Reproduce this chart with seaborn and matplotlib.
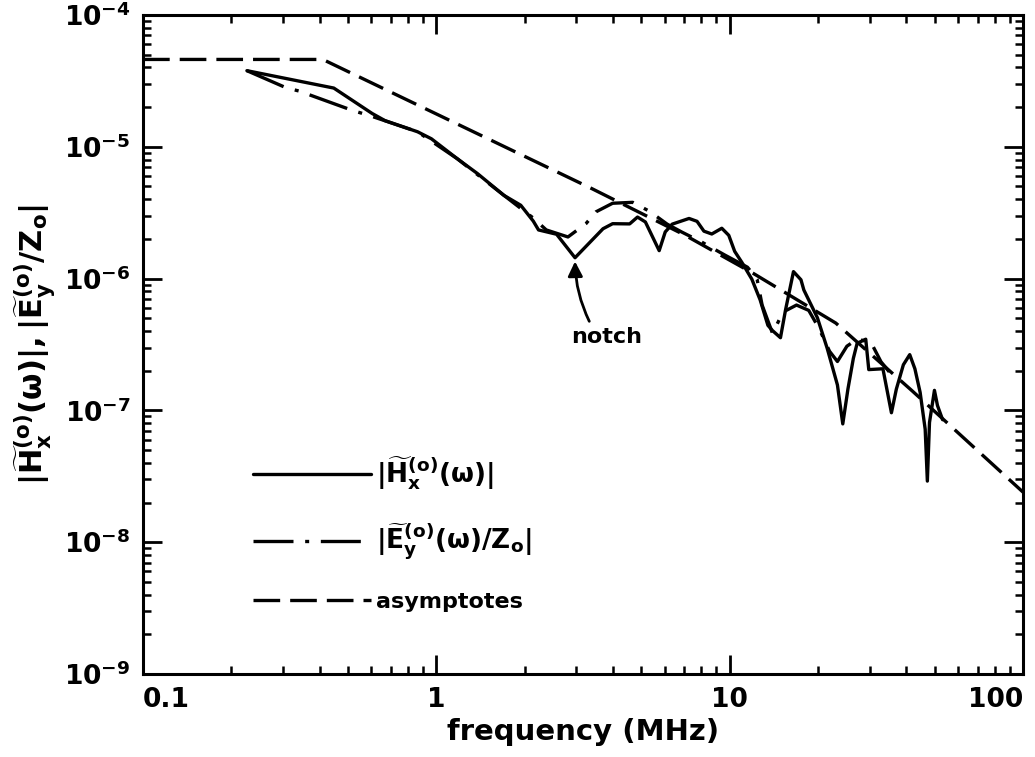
import numpy as np
import pandas as pd
import matplotlib
matplotlib.use("Agg")
import matplotlib.pyplot as plt
import matplotlib.ticker as mticker
import seaborn as sns

# ---------------- data ----------------
freq_H = [0.226, 0.447, 0.604, 0.668, 0.863, 0.962, 1.18, 1.38, 1.70, 1.94,
          2.14, 2.23, 2.57, 2.97, 3.70, 3.99, 4.56, 4.85, 5.16, 5.75,
          6.03, 6.37, 7.27, 7.74, 8.17, 8.69, 9.40, 9.93, 10.4, 11.0,
          11.9, 12.7, 13.5, 14.0, 14.9, 15.5, 16.5, 17.5, 17.9, 19.9,
          21.5, 23.3, 24.3, 25.3, 26.4, 27.2, 29.1, 29.8, 33.3, 35.6,
          37.0, 39.1, 41.1, 42.8, 44.6, 46.4, 47.2, 48.0, 49.9, 51.1, 53.2]
H_mag = [3.78e-5, 2.79e-5, 1.79e-5, 1.58e-5, 1.30e-5, 1.15e-5, 8.1e-6, 6.27e-6, 4.28e-6, 3.60e-6,
         2.73e-6, 2.34e-6, 2.17e-6, 1.44e-6, 2.39e-6, 2.61e-6, 2.60e-6, 2.93e-6, 2.69e-6, 1.63e-6,
         2.26e-6, 2.59e-6, 2.86e-6, 2.72e-6, 2.29e-6, 2.18e-6, 2.41e-6, 2.13e-6, 1.61e-6, 1.33e-6,
         9.9e-7, 6.9e-7, 4.42e-7, 4.03e-7, 3.56e-7, 5.77e-7, 1.13e-6, 9.8e-7, 8.2e-7, 5.06e-7,
         2.96e-7, 1.56e-7, 7.9e-8, 1.45e-7, 2.48e-7, 3.23e-7, 3.47e-7, 2.04e-7, 2.07e-7, 9.6e-8,
         1.45e-7, 2.22e-7, 2.65e-7, 2.07e-7, 1.37e-7, 7.2e-8, 2.91e-8, 8.1e-8, 1.42e-7, 1.09e-7, 8.5e-8]

freq_E = [0.226, 0.308, 0.340, 0.517, 0.604, 0.863, 1.18, 1.70, 2.14, 2.37,
          2.81, 3.24, 3.50, 3.99, 4.67, 5.33, 6.12, 6.88, 8.04, 9.62,
          11.5, 12.4, 12.9, 14.0, 15.2, 16.9, 18.6, 20.2, 21.9, 23.3,
          25.1, 27.2, 30.3, 32.8, 35.0]
E_mag = [3.78e-5, 2.80e-5, 2.65e-5, 1.89e-5, 1.70e-5, 1.30e-5, 8.1e-6, 4.28e-6, 2.88e-6, 2.34e-6,
         2.07e-6, 2.62e-6, 3.21e-6, 3.73e-6, 3.79e-6, 3.24e-6, 2.59e-6, 2.25e-6, 1.89e-6, 1.51e-6,
         1.22e-6, 9.9e-7, 6.3e-7, 3.84e-7, 5.57e-7, 6.3e-7, 5.74e-7, 4.16e-7, 2.81e-7, 2.35e-7,
         3.07e-7, 3.47e-7, 3.29e-7, 2.34e-7, 1.96e-7]

freq_asym = [0.1, 0.41, 3.4, 7.0, 12.0, 23.0, 42.0, 100.0]
asym_mag = [4.6e-5, 4.6e-5, 4.8e-6, 2.15e-6, 1.1e-6, 4.6e-7, 1.4e-7, 2.4e-8]

x_ticks = [0.1, 1, 10, 100]
x_tick_labels = ["0.1", "1", "10", "100"]
y_ticks = [1e-9, 1e-8, 1e-7, 1e-6, 1e-5, 1e-4]

legend_labels = [r"$|\widetilde{H}_{x}^{(o)}(\omega)|$",
                 r"$|\widetilde{E}_{y}^{(o)}(\omega)/Z_{o}|$",
                 "asymptotes"]
y_label = r"$|\widetilde{H}_{x}^{(o)}(\omega)|, |\widetilde{E}_{y}^{(o)}/Z_{o}|$"
x_label = "frequency (MHz)"

# ---------------- style ----------------
sns.set_theme(style="ticks")
plt.rcParams["font.family"] = ["DejaVu Sans"]
plt.rcParams["font.weight"] = "bold"
plt.rcParams["mathtext.fontset"] = "custom"
plt.rcParams["mathtext.rm"] = "DejaVu Sans:bold"
plt.rcParams["mathtext.it"] = "DejaVu Sans:bold"
plt.rcParams["mathtext.bf"] = "DejaVu Sans:bold"
plt.rcParams["mathtext.sf"] = "DejaVu Sans:bold"
plt.rcParams["mathtext.default"] = "rm"
plt.rcParams["axes.linewidth"] = 2.2
for key in ["text.color", "axes.labelcolor", "xtick.color", "ytick.color",
            "axes.edgecolor", "xtick.labelcolor", "ytick.labelcolor"]:
    plt.rcParams[key] = "black"

fig = plt.figure(figsize=(10.35, 7.57), dpi=100)
ax = fig.add_axes([0.1382, 0.1096, 0.8502, 0.8706])

dfH = pd.DataFrame({"f": freq_H, "v": H_mag})
dfE = pd.DataFrame({"f": freq_E, "v": E_mag})
dfA = pd.DataFrame({"f": freq_asym, "v": asym_mag})

lw = 2.4
sns.lineplot(data=dfH, x="f", y="v", ax=ax, sort=False, estimator=None,
             color="black", lw=lw, label=legend_labels[0])
sns.lineplot(data=dfE, x="f", y="v", ax=ax, sort=False, estimator=None,
             color="black", lw=lw, linestyle=(0, (12, 3.5, 1.2, 3.5)),
             label=legend_labels[1])
sns.lineplot(data=dfA, x="f", y="v", ax=ax, sort=False, estimator=None,
             color="black", lw=lw, linestyle=(0, (8, 3)), label=legend_labels[2])

ax.set_xscale("log")
ax.set_yscale("log")
ax.set_xlim(0.1, 100)
ax.set_ylim(1e-9, 1e-4)

ax.xaxis.set_major_locator(mticker.FixedLocator(x_ticks))
ax.xaxis.set_major_formatter(mticker.FixedFormatter(x_tick_labels))
ax.xaxis.set_minor_locator(mticker.LogLocator(base=10, subs=np.arange(2, 10), numticks=20))
ax.xaxis.set_minor_formatter(mticker.NullFormatter())
ax.yaxis.set_major_locator(mticker.FixedLocator(y_ticks))
ax.yaxis.set_major_formatter(mticker.LogFormatterSciNotation())
ax.yaxis.set_minor_locator(mticker.LogLocator(base=10, subs=np.arange(2, 10), numticks=20))
ax.yaxis.set_minor_formatter(mticker.NullFormatter())

ax.tick_params(which="both", direction="in", top=True, right=True, color="black",
               labelcolor="black")
ax.tick_params(which="major", length=14, width=2.0, labelsize=19, pad=9)
ax.tick_params(which="minor", length=6, width=1.8)
for lab in ax.get_xticklabels():
    lab.set_fontweight("bold")
xl = ax.get_xticklabels()
xl[0].set_horizontalalignment("left")
xl[-1].set_horizontalalignment("right")
for s in ax.spines.values():
    s.set_color("black")

ax.set_xlabel(x_label, fontsize=21, fontweight="bold", labelpad=4, color="black")
ax.set_ylabel(y_label, fontsize=22, labelpad=4, color="black")

ax.annotate("notch", xy=(2.97, 1.35e-6), xytext=(3.8, 3.6e-7),
            ha="center", va="center", fontsize=16, fontweight="bold", color="black",
            arrowprops=dict(arrowstyle="-|>", lw=2.0, color="black",
                            connectionstyle="arc3,rad=-0.12",
                            mutation_scale=22, relpos=(0.3, 1.0),
                            shrinkA=2, shrinkB=0))

leg = ax.legend(loc="center left", bbox_to_anchor=(0.125, 0.214), frameon=False,
                fontsize=16, handlelength=5.3, handletextpad=0.25,
                labelspacing=1.35, borderpad=0, borderaxespad=0)
texts = leg.get_texts()
for t in texts:
    t.set_fontweight("bold")
    t.set_color("black")
texts[0].set_fontsize(19)
texts[1].set_fontsize(19)

fig.savefig("out.png", dpi=100)
